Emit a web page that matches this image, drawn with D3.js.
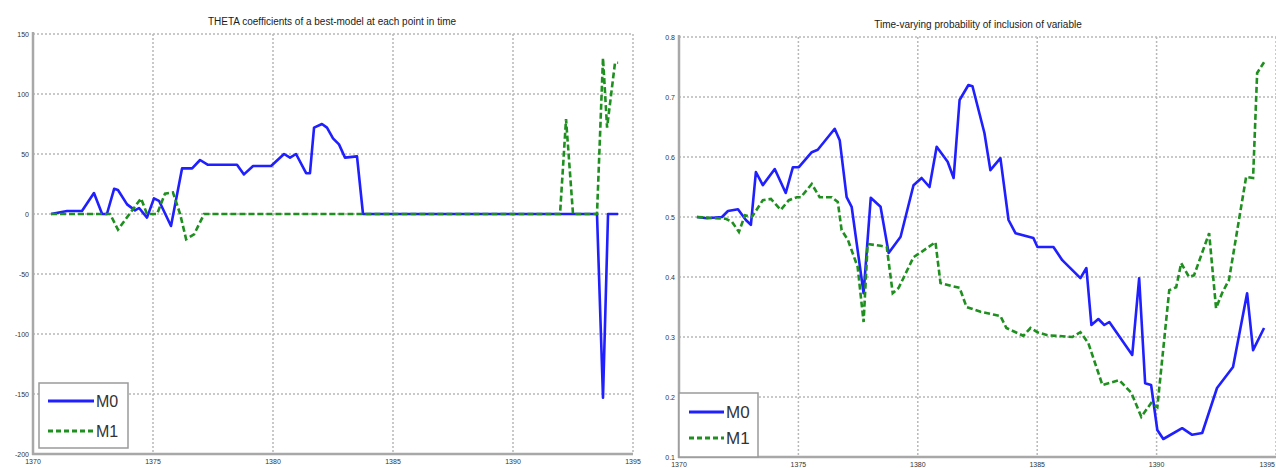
<!DOCTYPE html>
<html lang="en">
  <head>
    <meta charset="UTF-8" />
    <title>theta and inclusion probability</title>
    <style>
      body {
        margin: 0;
        background: #fff;
        overflow: hidden;
      }
      .tick-label {
        font-family: "Liberation Sans", Arial, sans-serif;
        font-size: 7px;
        fill: #333;
      }
      .title {
        font-family: "Liberation Sans", Arial, sans-serif;
        font-size: 10px;
        fill: #1a1a1a;
      }
      .legend-text {
        font-family: "Liberation Sans", Arial, sans-serif;
        fill: #333;
      }
      .grid {
        stroke: #b8b8b8;
        stroke-width: 1.5;
        stroke-dasharray: 2, 2;
      }
      .axis-line {
        stroke: #a8a8a8;
        stroke-width: 2.5;
      }
    </style>
  </head>
  <body>
    <svg id="chart" width="1276" height="468"></svg>
    <script src="https://cdn.jsdelivr.net/npm/d3@7"></script>
    <script>
      // x ticks (years) shared by both panels
      const yearTicks = [1370, 1375, 1380, 1385, 1390, 1395];
      const thetaTicks = [150, 100, 50, 0, -50, -100, -150, -200];
      const probTicks = [0.8, 0.7, 0.6, 0.5, 0.4, 0.3, 0.2, 0.1];
      const seriesNames = ["M0", "M1"];

      // left panel: THETA coefficients
      const thetaYearsM0 = [1370.75, 1371.42, 1372.04, 1372.54, 1372.88, 1373.08, 1373.38, 1373.54, 1373.92, 1374.25,
        1374.42, 1374.75, 1375.04, 1375.25, 1375.75, 1376.21, 1376.63, 1376.96, 1377.29, 1378.5,
        1378.79, 1379.17, 1379.92, 1380.46, 1380.71, 1380.96, 1381.38, 1381.54, 1381.71, 1382.04,
        1382.25, 1382.5, 1382.75, 1383.0, 1383.5, 1383.75, 1393.5, 1393.75, 1393.96, 1394.38];
      const thetaM0 = [0, 2.5, 2.5, 17.5, 0, 0, 21, 20, 8, 3,
        5, -3, 13, 11, -10, 38, 38, 45, 41, 41,
        33, 40, 40, 50, 47, 50, 34, 34, 72, 75,
        72, 63, 58, 47, 48, 0, 0, -153, 0, 0];

      const thetaYearsM1 = [1370.75, 1373.21, 1373.54, 1374.5, 1374.75, 1375.17, 1375.5, 1375.83, 1376.13, 1376.38,
        1376.71, 1377.13, 1391.96, 1392.21, 1392.5, 1393.5, 1393.75, 1393.92, 1394.25, 1394.38];
      const thetaM1 = [0, 0, -13, 13, 0, 0, 17, 18, 0, -21,
        -17, 0, 0, 79, 0, 0, 130, 72, 126, 126];

      // right panel: probability of inclusion
      const probYearsM0 = [1370.75, 1371.17, 1371.8, 1372.05, 1372.47, 1372.8, 1373.01, 1373.22, 1373.51, 1374.01,
        1374.47, 1374.77, 1375.02, 1375.56, 1375.81, 1376.52, 1376.73, 1377.02, 1377.23, 1377.73,
        1378.03, 1378.44, 1378.78, 1379.28, 1379.82, 1380.16, 1380.49, 1380.79, 1381.25, 1381.5,
        1381.75, 1382.12, 1382.29, 1382.79, 1383.04, 1383.46, 1383.8, 1384.09, 1384.84, 1385.01,
        1385.68, 1386.05, 1386.81, 1387.06, 1387.27, 1387.56, 1387.81, 1388.02, 1388.98, 1389.27,
        1389.52, 1389.77, 1390.03, 1390.28, 1391.07, 1391.49, 1391.91, 1392.53, 1393.2, 1393.79,
        1394.04, 1394.5];
      const probM0 = [0.5, 0.498, 0.5, 0.51, 0.513, 0.495, 0.487, 0.575, 0.553, 0.58,
        0.54, 0.583, 0.583, 0.608, 0.612, 0.647, 0.628, 0.533, 0.517, 0.373,
        0.532, 0.517, 0.44, 0.467, 0.553, 0.565, 0.55, 0.617, 0.592, 0.565,
        0.695, 0.72, 0.718, 0.64, 0.578, 0.598, 0.495, 0.473, 0.465, 0.45,
        0.45, 0.428, 0.398, 0.415, 0.32, 0.33, 0.32, 0.325, 0.27, 0.398,
        0.223, 0.22, 0.145, 0.13, 0.148, 0.137, 0.14, 0.215, 0.25, 0.373,
        0.278, 0.315];

      const probYearsM1 = [1370.75, 1371.96, 1372.22, 1372.51, 1372.76, 1373.05, 1373.51, 1373.85, 1374.26, 1374.6,
        1374.93, 1375.1, 1375.56, 1375.89, 1376.4, 1376.65, 1376.81, 1377.07, 1377.48, 1377.73,
        1377.9, 1378.44, 1378.7, 1378.95, 1379.2, 1379.82, 1380.16, 1380.74, 1380.95, 1381.41,
        1381.75, 1382.04, 1382.63, 1383.21, 1383.46, 1383.71, 1384.42, 1384.72, 1385.01, 1385.43,
        1386.47, 1386.81, 1387.14, 1387.73, 1388.44, 1388.94, 1389.36, 1389.77, 1390.03, 1390.53,
        1390.82, 1391.03, 1391.36, 1391.57, 1392.2, 1392.49, 1392.74, 1393.03, 1393.75, 1394.04,
        1394.21, 1394.5];
      const probM1 = [0.5, 0.497, 0.492, 0.475, 0.503, 0.5, 0.528, 0.53, 0.512, 0.528,
        0.533, 0.533, 0.555, 0.533, 0.533, 0.525, 0.478, 0.462, 0.417, 0.325,
        0.455, 0.452, 0.45, 0.373, 0.382, 0.433, 0.442, 0.458, 0.39, 0.385,
        0.382, 0.35, 0.342, 0.337, 0.335, 0.315, 0.302, 0.315, 0.308, 0.303,
        0.3, 0.308, 0.29, 0.22, 0.228, 0.207, 0.167, 0.19, 0.183, 0.378,
        0.383, 0.423, 0.4, 0.403, 0.473, 0.348, 0.373, 0.395, 0.567, 0.565,
        0.74, 0.758];

      const blue = "#1f1fff";
      const green = "#1f8f1f";
      const svg = d3.select("#chart");
      const svgWidth = 1276;

      function drawPanel(opts) {
        const x = d3.scaleLinear().domain([1370, 1395]).range([opts.left, opts.right]);
        const y = d3.scaleLinear().domain(opts.domain).range([opts.bottom, opts.top]);
        const g = svg.append("g");

        // dotted grid, including the top and right edges
        g.selectAll(".hgrid").data(opts.yTicks).enter().append("line")
          .attr("class", "grid")
          .attr("x1", opts.left).attr("x2", opts.right)
          .attr("y1", d => y(d)).attr("y2", d => y(d));
        g.selectAll(".vgrid").data(yearTicks).enter().append("line")
          .attr("class", "grid")
          .attr("x1", d => x(d)).attr("x2", d => x(d))
          .attr("y1", opts.top).attr("y2", opts.bottom);

        // solid left and bottom axes
        g.append("line").attr("class", "axis-line")
          .attr("x1", opts.left).attr("x2", opts.left)
          .attr("y1", opts.top - 2).attr("y2", opts.bottom + 1);
        g.append("line").attr("class", "axis-line")
          .attr("x1", opts.left - 1).attr("x2", opts.right)
          .attr("y1", opts.bottom).attr("y2", opts.bottom);

        g.selectAll(".ylab").data(opts.yTicks).enter().append("text")
          .attr("class", "tick-label")
          .attr("x", opts.left - 4)
          .attr("y", d => y(d) + 2.5)
          .attr("text-anchor", "end")
          .text(opts.fmt);
        // last year label sits on the window edge, keep it inside
        g.selectAll(".xlab").data(yearTicks).enter().append("text")
          .attr("class", "tick-label")
          .attr("x", d => Math.min(x(d), svgWidth - 1))
          .attr("y", opts.bottom + 10)
          .attr("text-anchor", d => x(d) + 9 > svgWidth ? "end" : "middle")
          .text(d => d);

        g.append("text").attr("class", "title")
          .attr("x", opts.titleX).attr("y", opts.titleY)
          .attr("text-anchor", "middle")
          .text(opts.title);

        const line = d3.line().x(d => x(d[0])).y(d => y(d[1]));
        g.append("path")
          .datum(d3.zip(opts.years0, opts.vals0))
          .attr("d", line)
          .attr("fill", "none")
          .attr("stroke", blue)
          .attr("stroke-width", 2.6)
          .attr("stroke-linejoin", "round");
        g.append("path")
          .datum(d3.zip(opts.years1, opts.vals1))
          .attr("d", line)
          .attr("fill", "none")
          .attr("stroke", green)
          .attr("stroke-width", 2.6)
          .attr("stroke-dasharray", "6,3");

        // legend
        const L = opts.legend;
        const lg = g.append("g").attr("transform", `translate(${L.x},${L.y})`);
        lg.append("rect")
          .attr("width", L.w).attr("height", L.h)
          .attr("fill", "#fff")
          .attr("stroke", "#9a9a9a")
          .attr("stroke-width", 1.5);
        seriesNames.forEach((name, i) => {
          const cy = L.row0 + i * L.step;
          lg.append("line")
            .attr("x1", L.lineX0).attr("x2", L.lineX1)
            .attr("y1", cy).attr("y2", cy)
            .attr("stroke", i === 0 ? blue : green)
            .attr("stroke-width", 2.8)
            .attr("stroke-dasharray", i === 0 ? null : "5,3");
          lg.append("text")
            .attr("class", "legend-text")
            .attr("x", L.lineX1 + 2)
            .attr("y", cy + L.font * 0.36)
            .attr("font-size", L.font)
            .text(name);
        });
      }

      drawPanel({
        left: 33, right: 633, top: 34, bottom: 454,
        domain: [-200, 150], yTicks: thetaTicks, fmt: d => d,
        title: "THETA coefficients of a best-model at each point in time",
        titleX: 332, titleY: 25,
        years0: thetaYearsM0, vals0: thetaM0, years1: thetaYearsM1, vals1: thetaM1,
        legend: { x: 39, y: 383, w: 89, h: 65, row0: 18, step: 30, lineX0: 9, lineX1: 55, font: 16 }
      });

      drawPanel({
        left: 679, right: 1276, top: 37, bottom: 457,
        domain: [0.1, 0.8], yTicks: probTicks, fmt: d => d.toFixed(1),
        title: "Time-varying probability of inclusion of variable",
        titleX: 978, titleY: 28,
        years0: probYearsM0, vals0: probM0, years1: probYearsM1, vals1: probM1,
        legend: { x: 679, y: 393, w: 79, h: 64, row0: 19, step: 26, lineX0: 10, lineX1: 45, font: 17 }
      });
    </script>
  </body>
</html>
